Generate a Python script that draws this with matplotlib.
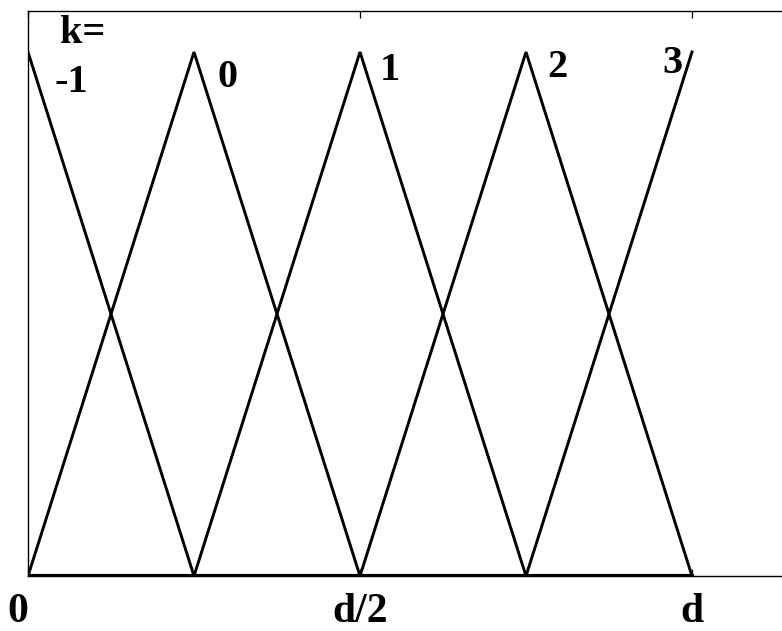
import matplotlib
matplotlib.use('Agg')
import matplotlib.pyplot as plt

plt.rcParams['font.family']=['Liberation Serif','DejaVu Serif']
plt.rcParams['font.weight']='bold'

# triangle segments, x in units of d, y normalised
ks=['-1','0','1','2','3']
xs=[[0.0,0.25],
    [0.0,0.25,0.5],
    [0.25,0.5,0.75],
    [0.5,0.75,1.0],
    [0.75,1.0]]
ys=[[1.0,0.0],
    [0.0,1.0,0.0],
    [0.0,1.0,0.0],
    [0.0,1.0,0.0],
    [0.0,1.0]]

# label positions
lab_txt=['k=','-1','0','1','2','3']
lab_x=[0.083,0.066,0.300,0.545,0.797,0.971]
lab_y=[1.036,0.941,0.952,0.964,0.970,0.979]

xticks=[0.0,0.5,1.0]
xticklabels=['0','d/2','d']

fig=plt.figure(figsize=(7.82,6.31),dpi=100)
ax=fig.add_axes([28/782,55/631,774/782,565/631])

for x,y in zip(xs,ys):
    ax.plot(x,y,c='black',lw=2.1,solid_joinstyle='miter')

ax.plot([0.0,1.0],[0.0,0.0],c='black',lw=3.0)

for t,x,y in zip(lab_txt,lab_x,lab_y):
    ax.text(x,y,t,fontsize=29,fontweight='bold',ha='center',va='center')

ax.set_xlim(0.0,774/664)
ax.set_ylim(0.0,565/524)

ax.set_xticks(xticks)
ax.set_xticklabels(xticklabels,fontsize=30,fontweight='bold')
ax.get_xticklabels()[0].set_horizontalalignment('right')
ax.set_yticks([])
ax.tick_params(axis='x',direction='in',length=5,top=True,pad=12,width=0.9)

for s in ax.spines.values():
    s.set_linewidth(1.0)

fig.savefig('out.png',dpi=100)
